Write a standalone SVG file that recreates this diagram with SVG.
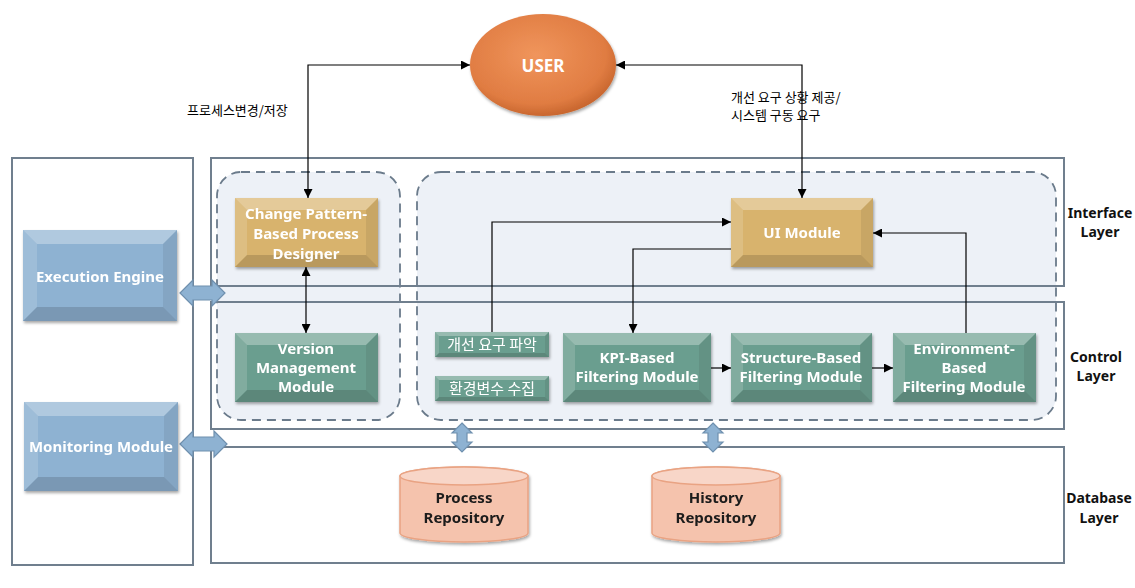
<svg xmlns="http://www.w3.org/2000/svg" width="1135" height="588" viewBox="0 0 1135 588">
<style>
  .layer{fill:#ffffff;stroke:none}
  .layerline{fill:none;stroke:#707f8e;stroke-width:2}
  .dash{fill:#edf1f7;stroke:#6b7b8b;stroke-width:1.8;stroke-dasharray:9 6}
  .gold{fill:#d8b36d}
  .teal{fill:#6b9e8f}
  .blue{fill:#8eb2d2}
  .bt{fill:#ffffff;fill-opacity:.3}
  .bl{fill:#ffffff;fill-opacity:.15}
  .br{fill:#000000;fill-opacity:.07}
  .bb{fill:#000000;fill-opacity:.14}
  .nt{font-family:"Noto Sans","Noto Sans CJK KR",sans-serif;font-weight:bold;font-size:15px;fill:#ffffff;text-anchor:middle}
  .kt{font-family:"Noto Sans CJK KR",sans-serif;font-size:15px;fill:#ffffff;text-anchor:middle}
  .dt{font-family:"Noto Sans","Noto Sans CJK KR",sans-serif;font-weight:bold;font-size:15px;fill:#1a1a1a;text-anchor:middle}
  .lt{font-family:"Noto Sans","Noto Sans CJK KR",sans-serif;font-weight:bold;font-size:14px;fill:#111111;text-anchor:middle}
  .ct{font-family:"Noto Sans CJK KR",sans-serif;font-size:13px;fill:#000000}
  .conn{fill:none;stroke:#000000;stroke-width:1.2}
  .blk{fill:#8eb2d2;stroke:#6f90ae;stroke-width:1.2}
  .cyl{fill:#f5c3ad;stroke:#e9a383;stroke-width:1.5}
  .cyltop{fill:#f8d6c8;stroke:#e9a383;stroke-width:1.5}
</style>
<defs>
  <marker id="ah" viewBox="0 0 10 10" refX="10" refY="5" markerWidth="9" markerHeight="9" markerUnits="userSpaceOnUse" orient="auto-start-reverse">
    <path d="M0,0 L10,5 L0,10 z" fill="#000000"/>
  </marker>
  <filter id="sh" x="-10%" y="-10%" width="125%" height="130%">
    <feDropShadow dx="1" dy="2" stdDeviation="1.5" flood-color="#000000" flood-opacity="0.35"/>
  </filter>
  <radialGradient id="ug" cx="45%" cy="40%" r="60%">
    <stop offset="0" stop-color="#f0955c"/>
    <stop offset="0.8" stop-color="#e07c42"/>
    <stop offset="1" stop-color="#c9672f"/>
  </radialGradient>
</defs>

<!-- layer backgrounds -->
<g id="layers">
  <rect class="layer" x="12" y="158" width="181" height="407"/>
  <rect class="layer" x="211" y="158" width="853" height="128"/>
  <rect class="layer" x="211" y="302" width="853" height="127"/>
  <rect class="layer" x="211" y="447" width="853" height="116"/>
  <rect class="dash" x="217" y="172" width="183" height="248" rx="24"/>
  <rect class="dash" x="417" y="172" width="639" height="248" rx="24"/>
  <rect class="layerline" x="12" y="158" width="181" height="407"/>
  <rect class="layerline" x="211" y="158" width="853" height="128"/>
  <rect class="layerline" x="211" y="302" width="853" height="127"/>
  <rect class="layerline" x="211" y="447" width="853" height="116"/>
</g>

<g id="layer-labels">
  <text class="lt" x="1100" y="218">Interface</text>
  <text class="lt" x="1100" y="237">Layer</text>
  <text class="lt" x="1096" y="362">Control</text>
  <text class="lt" x="1096" y="381">Layer</text>
  <text class="lt" x="1099" y="503">Database</text>
  <text class="lt" x="1099" y="523">Layer</text>
</g>

<g id="connectors">
  <path class="conn" d="M308,198 V65 H470" marker-start="url(#ah)" marker-end="url(#ah)"/>
  <path class="conn" d="M802,198 V65 H616" marker-start="url(#ah)" marker-end="url(#ah)"/>
  <path class="conn" d="M306,267 V333" marker-start="url(#ah)" marker-end="url(#ah)"/>
  <path class="conn" d="M492,332 V222 H731" marker-end="url(#ah)"/>
  <path class="conn" d="M731,249 H633 V333" marker-end="url(#ah)"/>
  <path class="conn" d="M711,368 H731" marker-end="url(#ah)"/>
  <path class="conn" d="M872,368 H893" marker-end="url(#ah)"/>
  <path class="conn" d="M966,333 V233 H873" marker-end="url(#ah)"/>
  <path class="blk" d="M180,293 L193,280 L193,286 L212,286 L212,280 L225,293 L212,306 L212,300 L193,300 L193,306 Z"/>
  <path class="blk" d="M180,444 L193,431 L193,437 L214,437 L214,431 L227,444 L214,457 L214,451 L193,451 L193,457 Z"/>
  <path class="blk" d="M462,423 L472,433 L467,433 L467,442 L472,442 L462,452 L452,442 L457,442 L457,433 L452,433 Z"/>
  <path class="blk" d="M713,423 L723,433 L718,433 L718,442 L723,442 L713,452 L703,442 L708,442 L708,433 L703,433 Z"/>
</g>

<g id="user">
  <ellipse cx="543" cy="65" rx="73" ry="51" fill="url(#ug)" filter="url(#sh)"/>
  <text class="nt" x="543" y="72" style="font-size:17px">USER</text>
</g>

<g id="edge-labels">
  <text class="ct" x="187" y="115">프로세스변경/저장</text>
  <text class="ct" x="731" y="102">개선 요구 상황 제공/</text>
  <text class="ct" x="731" y="120">시스템 구동 요구</text>
</g>

<g id="change-pattern-designer" filter="url(#sh)">
  <rect class="gold" x="235" y="198" width="143" height="69"/>
  <polygon class="bt" points="235,198 378,198 366,210 247,210"/>
  <polygon class="bl" points="235,198 247,210 247,255 235,267"/>
  <polygon class="br" points="378,198 378,267 366,255 366,210"/>
  <polygon class="bb" points="235,267 378,267 366,255 247,255"/>
  <text class="nt" x="306" y="219">Change Pattern-</text>
  <text class="nt" x="306" y="239">Based Process</text>
  <text class="nt" x="306" y="259">Designer</text>
</g>

<g id="version-management" filter="url(#sh)">
  <rect class="teal" x="235" y="333" width="143" height="69"/>
  <polygon class="bt" points="235,333 378,333 366,345 247,345"/>
  <polygon class="bl" points="235,333 247,345 247,390 235,402"/>
  <polygon class="br" points="378,333 378,402 366,390 366,345"/>
  <polygon class="bb" points="235,402 378,402 366,390 247,390"/>
  <text class="nt" x="306" y="354">Version</text>
  <text class="nt" x="306" y="373">Management</text>
  <text class="nt" x="306" y="392">Module</text>
</g>

<g id="ui-module" filter="url(#sh)">
  <rect class="gold" x="731" y="198" width="142" height="69"/>
  <polygon class="bt" points="731,198 873,198 861,210 743,210"/>
  <polygon class="bl" points="731,198 743,210 743,255 731,267"/>
  <polygon class="br" points="873,198 873,267 861,255 861,210"/>
  <polygon class="bb" points="731,267 873,267 861,255 743,255"/>
  <text class="nt" x="802" y="238">UI Module</text>
</g>

<g id="kpi-filter" filter="url(#sh)">
  <rect class="teal" x="563" y="333" width="148" height="69"/>
  <polygon class="bt" points="563,333 711,333 699,345 575,345"/>
  <polygon class="bl" points="563,333 575,345 575,390 563,402"/>
  <polygon class="br" points="711,333 711,402 699,390 699,345"/>
  <polygon class="bb" points="563,402 711,402 699,390 575,390"/>
  <text class="nt" x="637" y="363">KPI-Based</text>
  <text class="nt" x="637" y="382">Filtering Module</text>
</g>

<g id="structure-filter" filter="url(#sh)">
  <rect class="teal" x="731" y="333" width="141" height="69"/>
  <polygon class="bt" points="731,333 872,333 860,345 743,345"/>
  <polygon class="bl" points="731,333 743,345 743,390 731,402"/>
  <polygon class="br" points="872,333 872,402 860,390 860,345"/>
  <polygon class="bb" points="731,402 872,402 860,390 743,390"/>
  <text class="nt" x="801" y="363">Structure-Based</text>
  <text class="nt" x="801" y="382">Filtering Module</text>
</g>

<g id="environment-filter" filter="url(#sh)">
  <rect class="teal" x="893" y="333" width="143" height="69"/>
  <polygon class="bt" points="893,333 1036,333 1024,345 905,345"/>
  <polygon class="bl" points="893,333 905,345 905,390 893,402"/>
  <polygon class="br" points="1036,333 1036,402 1024,390 1024,345"/>
  <polygon class="bb" points="893,402 1036,402 1024,390 905,390"/>
  <text class="nt" x="964" y="354">Environment-</text>
  <text class="nt" x="964" y="373">Based</text>
  <text class="nt" x="964" y="392">Filtering Module</text>
</g>

<g id="requirement-analysis" filter="url(#sh)">
  <rect class="teal" x="435" y="332" width="114" height="25"/>
  <polygon class="bt" points="435,332 549,332 545,336 439,336"/>
  <polygon class="bl" points="435,332 439,336 439,353 435,357"/>
  <polygon class="br" points="549,332 549,357 545,353 545,336"/>
  <polygon class="bb" points="435,357 549,357 545,353 439,353"/>
  <text class="kt" x="492" y="350">개선 요구 파악</text>
</g>

<g id="env-variable-collection" filter="url(#sh)">
  <rect class="teal" x="435" y="376" width="114" height="25"/>
  <polygon class="bt" points="435,376 549,376 545,380 439,380"/>
  <polygon class="bl" points="435,376 439,380 439,397 435,401"/>
  <polygon class="br" points="549,376 549,401 545,397 545,380"/>
  <polygon class="bb" points="435,401 549,401 545,397 439,397"/>
  <text class="kt" x="492" y="394">환경변수 수집</text>
</g>

<g id="execution-engine" filter="url(#sh)">
  <rect class="blue" x="23" y="230" width="154" height="91"/>
  <polygon class="bt" points="23,230 177,230 163,244 37,244"/>
  <polygon class="bl" points="23,230 37,244 37,307 23,321"/>
  <polygon class="br" points="177,230 177,321 163,307 163,244"/>
  <polygon class="bb" points="23,321 177,321 163,307 37,307"/>
  <text class="nt" x="100" y="282">Execution Engine</text>
</g>

<g id="monitoring-module" filter="url(#sh)">
  <rect class="blue" x="24" y="402" width="154" height="89"/>
  <polygon class="bt" points="24,402 178,402 164,416 38,416"/>
  <polygon class="bl" points="24,402 38,416 38,477 24,491"/>
  <polygon class="br" points="178,402 178,491 164,477 164,416"/>
  <polygon class="bb" points="24,491 178,491 164,477 38,477"/>
  <text class="nt" x="101" y="452">Monitoring Module</text>
</g>

<g id="process-repository" filter="url(#sh)">
  <path class="cyl" d="M400,476 A64,9 0 0 1 528,476 L528,533 A64,9 0 0 1 400,533 Z"/>
  <ellipse class="cyltop" cx="464" cy="476" rx="64" ry="9"/>
  <text class="dt" x="464" y="503">Process</text>
  <text class="dt" x="464" y="523">Repository</text>
</g>

<g id="history-repository" filter="url(#sh)">
  <path class="cyl" d="M652,476 A64,9 0 0 1 780,476 L780,533 A64,9 0 0 1 652,533 Z"/>
  <ellipse class="cyltop" cx="716" cy="476" rx="64" ry="9"/>
  <text class="dt" x="716" y="503">History</text>
  <text class="dt" x="716" y="523">Repository</text>
</g>
</svg>
